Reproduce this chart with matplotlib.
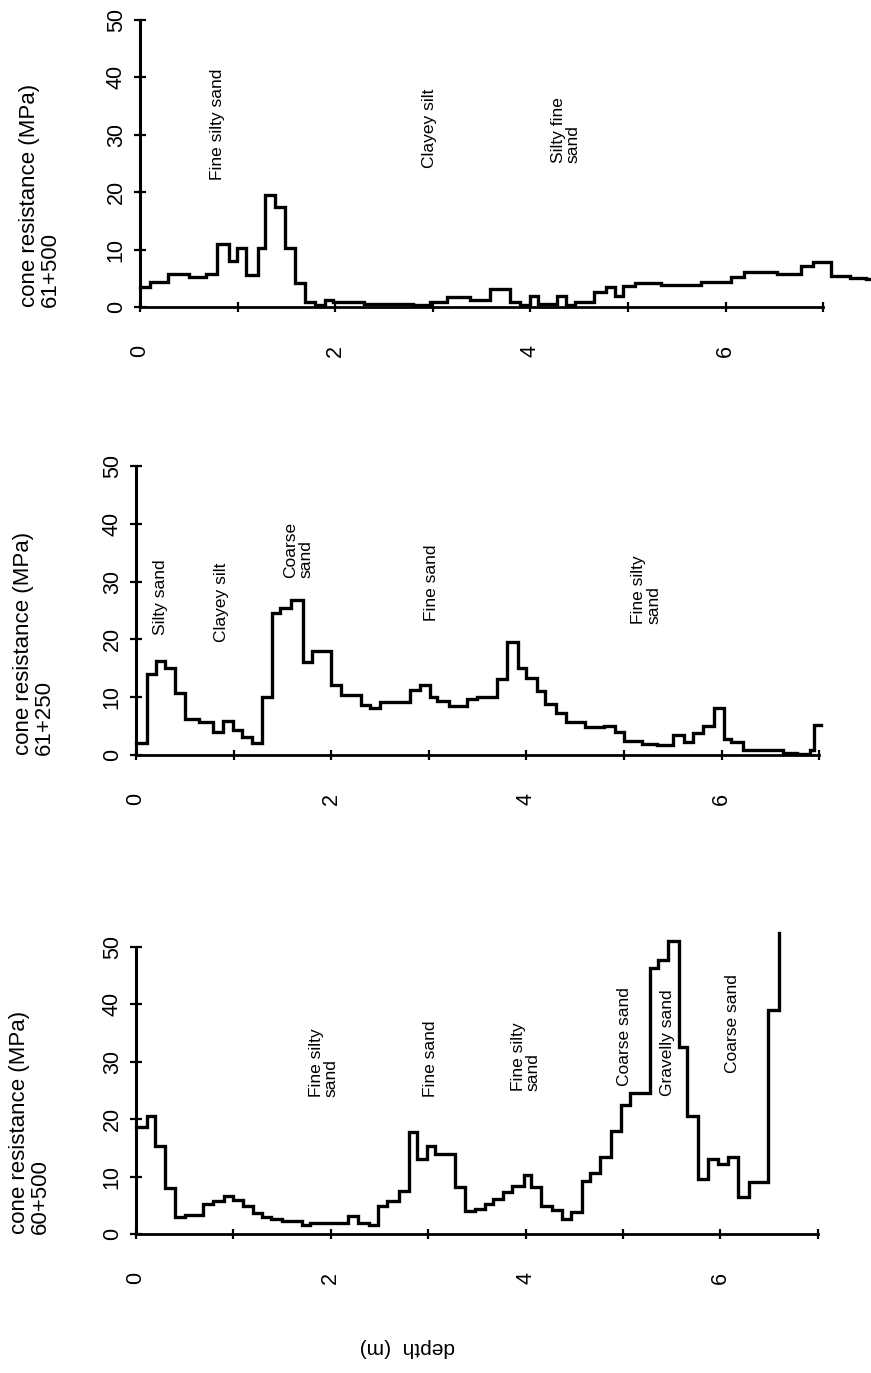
import matplotlib
matplotlib.use("Agg")
import matplotlib.pyplot as plt

plt.rcParams['font.family'] = ['Liberation Sans', 'DejaVu Sans']

# ---------------- data ----------------
# 61+500 : layer top depths (m) and cone resistance (MPa)
d_61500 = [0.00, 0.10, 0.29, 0.50, 0.68, 0.79, 0.91, 0.99, 1.09, 1.21, 1.28, 1.38, 1.49,
           1.59, 1.69, 1.79, 1.90, 1.98, 2.29, 2.46, 2.80, 2.97, 3.15, 3.38, 3.59, 3.79,
           3.89, 4.00, 4.08, 4.27, 4.36, 4.46, 4.65, 4.77, 4.87, 4.95, 5.07, 5.34, 5.75,
           6.06, 6.19, 6.53, 6.77, 6.90, 7.08, 7.27, 7.44, 7.60]
q_61500 = [3.5, 4.4, 5.8, 5.3, 5.8, 11.0, 8.1, 10.2, 5.5, 10.2, 19.5, 17.4, 10.2,
           4.2, 0.9, 0.3, 1.2, 0.9, 0.5, 0.6, 0.3, 0.9, 1.8, 1.2, 3.1, 0.9,
           0.3, 1.9, 0.6, 1.9, 0.3, 0.9, 2.6, 3.5, 2.0, 3.6, 4.2, 3.8, 4.4,
           5.3, 6.1, 5.7, 7.1, 7.8, 5.4, 5.0, 4.8, 4.8]

# 61+250
d_61250 = [0.00, 0.11, 0.21, 0.30, 0.40, 0.50, 0.65, 0.79, 0.89, 0.99, 1.09, 1.19, 1.29,
           1.39, 1.48, 1.59, 1.71, 1.80, 2.00, 2.10, 2.31, 2.40, 2.50, 2.81, 2.91, 3.01,
           3.08, 3.21, 3.39, 3.49, 3.70, 3.80, 3.91, 4.00, 4.11, 4.19, 4.30, 4.41, 4.60,
           4.79, 4.91, 5.00, 5.18, 5.34, 5.50, 5.61, 5.71, 5.81, 5.92, 6.02, 6.10, 6.22,
           6.63, 6.77, 6.91, 6.95, 7.02]
q_61250 = [2.1, 14.1, 16.3, 15.0, 10.8, 6.3, 5.7, 3.9, 5.9, 4.3, 3.1, 2.1, 10.1,
           24.5, 25.5, 26.8, 16.1, 18.0, 12.1, 10.3, 8.7, 8.2, 9.2, 11.2, 12.1, 10.0,
           9.4, 8.5, 9.7, 10.0, 13.1, 19.5, 15.0, 13.4, 11.0, 8.9, 7.3, 5.7, 4.8,
           5.0, 3.9, 2.5, 1.9, 1.7, 3.5, 2.2, 3.8, 5.1, 8.2, 2.8, 2.3, 0.8,
           0.4, 0.2, 0.8, 5.2, 5.2]

# 60+500
d_60500 = [0.00, 0.11, 0.20, 0.30, 0.40, 0.50, 0.69, 0.79, 0.90, 1.00, 1.10, 1.20, 1.29,
           1.39, 1.50, 1.70, 1.79, 2.18, 2.28, 2.39, 2.48, 2.58, 2.70, 2.80, 2.88, 2.99,
           3.07, 3.28, 3.38, 3.48, 3.58, 3.67, 3.77, 3.86, 3.98, 4.06, 4.16, 4.27, 4.37,
           4.47, 4.58, 4.66, 4.76, 4.88, 4.98, 5.07, 5.28, 5.36, 5.46, 5.58, 5.66, 5.77,
           5.87, 5.98, 6.08, 6.18, 6.29, 6.49, 6.60]
q_60500 = [18.6, 20.6, 15.3, 8.0, 2.9, 3.3, 5.2, 5.8, 6.7, 5.9, 4.9, 3.7, 3.0,
           2.6, 2.2, 1.6, 2.0, 3.2, 2.0, 1.5, 4.8, 5.8, 7.5, 17.8, 13.1, 15.3,
           14.0, 8.2, 4.0, 4.4, 5.2, 6.1, 7.3, 8.4, 10.3, 8.2, 4.9, 4.1, 2.6,
           3.9, 9.3, 10.7, 13.4, 18.0, 22.5, 24.5, 46.3, 47.8, 51.0, 32.5, 20.6, 9.5,
           13.1, 12.2, 13.5, 6.5, 9.0, 39.1, 52.5]

stations = ["61+500", "61+250", "60+500"]

labels_61500 = ["Fine silty sand", "Clayey silt", "Silty fine\nsand"]
lab_d_61500 = [0.79, 2.97, 4.36]
lab_q_61500 = [22.1, 24.2, 25.1]

labels_61250 = ["Silty sand", "Clayey silt", "Coarse\nsand", "Fine sand", "Fine silty\nsand"]
lab_d_61250 = [0.25, 0.88, 1.66, 3.03, 5.23]
lab_q_61250 = [20.8, 19.6, 30.6, 23.1, 22.7]

labels_60500 = ["Fine silty\nsand", "Fine sand", "Fine silty\nsand", "Coarse sand",
                "Gravelly sand", "Coarse sand"]
lab_d_60500 = [1.93, 3.02, 4.00, 5.02, 5.46, 6.12]
lab_q_60500 = [23.8, 23.8, 24.9, 25.8, 24.0, 28.1]

yticks = [0, 10, 20, 30, 40, 50]
xticks = [0, 1, 2, 3, 4, 5, 6, 7]
xticklabels = ["0", "", "2", "", "4", "", "6", ""]

# ---------------- layout (pixels) ----------------
W, H = 871, 1373
fig = plt.figure(figsize=(W / 100, H / 100), dpi=100)
fig.patch.set_facecolor("white")

panels = [
    dict(x0=140, sx=97.6, y0=307, sy=5.74, d=d_61500, q=q_61500, st=stations[0],
         lab=labels_61500, ld=lab_d_61500, lq=lab_q_61500, ylx=40),
    dict(x0=136, sx=97.6, y0=755, sy=5.78, d=d_61250, q=q_61250, st=stations[1],
         lab=labels_61250, ld=lab_d_61250, lq=lab_q_61250, ylx=34),
    dict(x0=136, sx=97.4, y0=1234, sy=5.74, d=d_60500, q=q_60500, st=stations[2],
         lab=labels_60500, ld=lab_d_60500, lq=lab_q_60500, ylx=30),
]

XMAX, YMAX = 7.6, 53.5
for p in panels:
    left = p["x0"] / W
    bottom = (H - p["y0"]) / H
    width = XMAX * p["sx"] / W
    height = YMAX * p["sy"] / H
    ax = fig.add_axes([left, bottom, width, height])
    ax.set_xlim(0, XMAX)
    ax.set_ylim(0, YMAX)
    ax.patch.set_alpha(0)
    for s in ["top", "right"]:
        ax.spines[s].set_visible(False)
    ax.spines["left"].set_bounds(0, 50)
    ax.spines["bottom"].set_bounds(0, 7)
    ax.spines["left"].set_linewidth(2.2)
    ax.spines["bottom"].set_linewidth(2.0)

    ax.step(p["d"], p["q"], where="post", color="black", lw=2.4, clip_on=False,
            solid_joinstyle="miter")

    ax.set_yticks(yticks)
    ax.set_yticklabels([str(v) for v in yticks], rotation=90, va="center")
    ax.set_xticks(xticks)
    ax.set_xticklabels(xticklabels, rotation=90)
    ax.tick_params(axis="y", direction="inout", length=9, width=1.6, labelsize=15.5, pad=5)
    ax.tick_params(axis="x", direction="inout", length=7, width=1.6, labelsize=15.5, pad=24)

    for t, dd, qq in zip(p["lab"], p["ld"], p["lq"]):
        ax.text(dd, qq, t, rotation=90, ha="center", va="bottom", multialignment="left",
                fontsize=12.5, linespacing=1.0)

    fig.text(p["ylx"] / W, (H - p["y0"]) / H, "cone resistance (MPa)\n" + p["st"],
             rotation=90, ha="center", va="bottom", multialignment="left",
             fontsize=16, linespacing=1.0)

fig.text(407 / W, (H - 1348) / H, "depth  (m)", rotation=180, ha="center", va="center",
         fontsize=15)

fig.savefig("out.png", dpi=100, facecolor="white")
